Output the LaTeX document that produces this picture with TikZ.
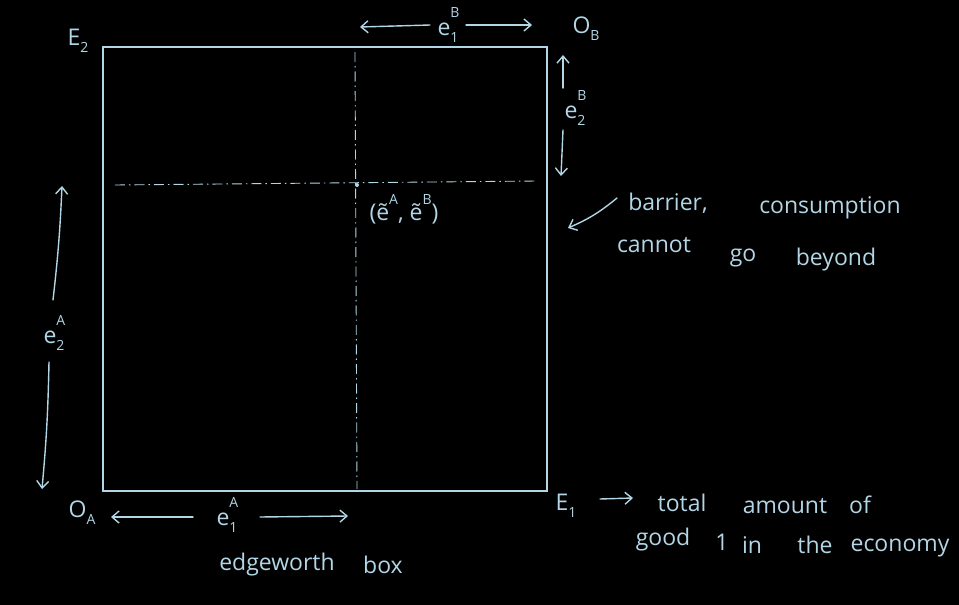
\documentclass[tikz,border=0pt]{standalone}
\usepackage{fontspec}
\setmainfont{Open Sans}
\usetikzlibrary{arrows.meta}
\definecolor{chalk}{RGB}{178,214,230}
\newcommand{\lab}[3]{#1\rlap{\raisebox{0.75em}{\fontsize{14}{14}\selectfont #3}}\raisebox{-0.3em}{\fontsize{14}{14}\selectfont #2}}
\newcommand{\supl}[2]{#1\raisebox{0.7em}{\fontsize{14}{14}\selectfont #2}}
\begin{document}
\begin{tikzpicture}[x=1pt,y=-1pt,
  chalkline/.style={draw=chalk,line width=1.4pt,line cap=round},
  arr/.style={chalkline,-{Straight Barb[length=7pt,width=12pt]}},
  lbl/.style={text=chalk,font=\fontsize{23}{26}\selectfont,inner sep=1pt},
  guide/.style={draw=chalk,line width=0.9pt,dash pattern=on 10pt off 4pt on 1.5pt off 4pt}]
\fill[black] (0,0) rectangle (959,605);
\useasboundingbox (0,0) rectangle (959,605);
% box
\draw[draw=chalk,line width=2.6pt] (103,47) rectangle (547,491);
% guides
\coordinate (vt) at (355,52);
\coordinate (vb) at (357,489);
\coordinate (hl) at (115,185);
\coordinate (hr) at (537,181);
\coordinate (pt) at (357,185);
\draw[guide] (vt) -- (vb);
\draw[guide] (hl) -- (hr);
\fill[chalk] (pt) circle (2pt);
% corner labels
\node[lbl] (E2) at (78,40) {\lab{E}{2}{}};
\node[lbl] (OBl) at (586,28) {\lab{O}{B}{}};
\node[lbl] (OAl) at (82,512) {\lab{O}{A}{}};
\node[lbl] (E1) at (566,505) {\lab{E}{1}{}};
% top e1B
\node[lbl] (e1B) at (448,25) {\lab{e}{1}{B}};
\coordinate (t1) at (430,25); \coordinate (t1e) at (360,27);
\coordinate (t2) at (466,25); \coordinate (t2e) at (532,25);
\draw[arr] (t1) -- (t1e);
\draw[arr] (t2) -- (t2e);
% right e2B
\node[lbl] (e2B) at (575,108) {\lab{e}{2}{B}};
\coordinate (r1) at (563,88); \coordinate (r1e) at (563,55);
\coordinate (r2) at (563,130); \coordinate (r2e) at (561,176);
\draw[arr] (r1) -- (r1e);
\draw[arr] (r2) -- (r2e);
% left e2A
\node[lbl] (e2A) at (54,333) {\lab{e}{2}{A}};
\coordinate (l1) at (53,300); \coordinate (l1e) at (62,186);
\coordinate (l2) at (49,362); \coordinate (l2e) at (42,489);
\draw[arr] (l1) to[bend right=2] (l1e);
\draw[arr] (l2) to[bend left=2] (l2e);
% bottom e1A
\node[lbl] (e1A) at (227,515) {\lab{e}{1}{A}};
\coordinate (b1) at (193,517); \coordinate (b1e) at (111,517);
\coordinate (b2) at (260,517); \coordinate (b2e) at (348,516);
\draw[arr] (b1) -- (b1e);
\draw[arr] (b2) -- (b2e);
% endowment point label
\node[lbl] (pl) at (404,209) {(\supl{\~{e}}{A}, \supl{\~{e}}{B})};
% barrier note
\node[lbl] (w1) at (668,203) {barrier,};
\node[lbl] (w2) at (830,208) {consumption};
\node[lbl] (w3) at (654,245) {cannot};
\node[lbl] (w4) at (743,258) {go};
\node[lbl] (w5) at (836,260) {beyond};
\coordinate (ba) at (617,198); \coordinate (bae) at (568,228);
\draw[arr] (ba) to[bend left=8] (bae);
% edgeworth
\node[lbl] (w6) at (277,565) {edgeworth};
\node[lbl] (w7) at (383,565) {box};
% total amount
\coordinate (ta) at (600,499); \coordinate (tae) at (633,498);
\draw[arr] (ta) -- (tae);
\node[lbl] (w8) at (682,503) {total};
\node[lbl] (w9) at (785,506) {amount};
\node[lbl] (w10) at (860,505) {of};
\node[lbl] (w11) at (663,540) {good};
\node[lbl] (w12) at (722,542) {1};
\node[lbl] (w13) at (752,545) {in};
\node[lbl] (w14) at (815,545) {the};
\node[lbl] (w15) at (900,548) {economy};
\end{tikzpicture}
\end{document}
